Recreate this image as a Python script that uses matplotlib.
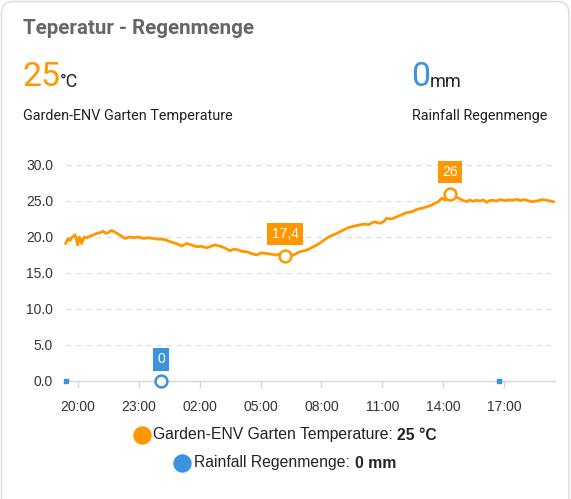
import numpy as np
import matplotlib
matplotlib.use("Agg")
import matplotlib.pyplot as plt
from matplotlib.patches import FancyBboxPatch

# hours since midnight of day one (24+ = next day)
temp_hours = [19.41, 19.54, 19.63, 19.71, 19.80, 19.87, 19.94, 20.00, 20.08, 20.14, 20.20, 20.31,
              20.45, 20.61, 20.78, 20.94, 21.10, 21.26, 21.40, 21.51, 21.64, 21.76, 21.88, 22.00,
              22.17, 22.33, 22.55, 22.74, 22.98, 23.23, 23.48, 23.73, 23.95, 24.14, 24.35, 24.55,
              24.85, 25.12, 25.37, 25.60, 25.86, 26.10, 26.35, 26.55, 26.76, 27.09, 27.30, 27.50,
              27.70, 27.91, 28.10, 28.32, 28.55, 28.81, 29.05, 29.31, 29.55, 29.80, 30.00, 30.21,
              30.40, 30.62, 30.94, 31.30, 31.77, 32.05, 32.34, 32.60, 32.83, 33.10, 33.32, 33.60,
              33.90, 34.10, 34.31, 34.50, 34.64, 34.85, 35.04, 35.21, 35.45, 35.70, 35.95, 36.20,
              36.45, 36.69, 36.95, 37.18, 37.40, 37.59, 37.75, 37.92, 38.08, 38.20, 38.33, 38.50,
              38.74, 38.95, 39.15, 39.30, 39.45, 39.62, 39.80, 39.97, 40.13, 40.27, 40.40, 40.62,
              40.80, 41.00, 41.22, 41.44, 41.62, 41.80, 41.95, 42.10, 42.35, 42.59, 42.85, 43.09,
              43.25, 43.41]
temp_values = [19.1, 19.8, 19.5, 19.95, 20.1, 20.3, 19.7, 18.9, 20.0, 19.6, 19.1, 20.0,
               19.9, 20.1, 20.3, 20.5, 20.6, 20.8, 20.5, 20.6, 20.9, 20.8, 20.6, 20.4,
               20.1, 19.8, 20.0, 19.9, 20.0, 19.8, 19.9, 19.8, 19.7, 19.7, 19.6, 19.35,
               19.1, 18.75, 19.1, 18.9, 18.65, 18.7, 18.5, 18.7, 18.9, 18.65, 18.4, 18.1,
               18.3, 18.2, 18.0, 17.95, 17.7, 17.5, 17.8, 17.7, 17.6, 17.5, 17.7, 17.4,
               17.5, 17.5, 17.95, 18.2, 18.9, 19.4, 20.0, 20.3, 20.6, 21.0, 21.3, 21.5,
               21.7, 21.8, 21.7, 22.0, 22.1, 21.9, 22.1, 22.6, 22.5, 22.8, 23.1, 23.4,
               23.5, 23.85, 24.0, 24.2, 24.4, 24.7, 24.9, 25.4, 25.1, 25.6, 26.0, 25.6,
               25.4, 25.1, 24.9, 25.15, 24.95, 25.1, 25.0, 25.15, 24.8, 25.05, 25.1, 25.0,
               25.2, 25.05, 25.15, 25.1, 25.25, 25.05, 25.2, 25.1, 24.9, 25.0, 25.2, 25.1,
               25.0, 24.9]
temp_min = (30.21, 17.4, "17,4")
temp_max = (38.33, 26.0, "26")

rain_hours = [19.42, 40.73]
rain_values = [0, 0]
rain_min = (24.12, 0, "0")

tick_hours = [20, 23, 26, 29, 32, 35, 38, 41]
tick_labels = ["20:00", "23:00", "02:00", "05:00", "08:00", "11:00", "14:00", "17:00"]
y_ticks = [0, 5, 10, 15, 20, 25, 30]

orange = "#ff9800"
blue = "#3a94dc"
W, H = 571, 499

fig = plt.figure(figsize=(W / 100, H / 100), dpi=100)

# card background
bg = fig.add_axes([0, 0, 1, 1])
bg.set_xlim(0, W)
bg.set_ylim(H, 0)
bg.axis("off")
bg.add_patch(FancyBboxPatch((1.5, 1.5), W - 3.5, H + 20, boxstyle="round,pad=0,rounding_size=12",
                            fc="white", ec="#e0e0e0", lw=1.2))

bg.text(23, 28, "Teperatur - Regenmenge", fontsize=14.8, family="Roboto", weight="bold",
        color="#666666", va="center")
bg.text(22, 77, "25", fontsize=24.5, family="Roboto", color=orange, va="center")
bg.text(59.5, 82, "°C", fontsize=13, family="Roboto", color="#212121", va="center")
bg.text(23, 115.5, "Garden-ENV Garten Temperature", fontsize=10.4, family="Roboto",
        color="#212121", va="center")
bg.text(411.5, 77, "0", fontsize=24.5, family="Roboto", color=blue, va="center")
bg.text(429.5, 82, "mm", fontsize=13, family="Roboto", color="#212121", va="center")
bg.text(412, 115.5, "Rainfall Regenmenge", fontsize=10.35, family="Roboto",
        color="#212121", va="center")

# legend
leg_font = dict(fontsize=11.3, family="Liberation Sans", color="#222222")
bg.scatter([141.7], [435], s=150, color=orange, zorder=3)
t1 = bg.text(153, 435, "Garden-ENV Garten Temperature: ", va="center", **leg_font)
bg.annotate("25 °C", xy=(1, 0.5), xycoords=t1, va="center", ha="left", weight="bold", **leg_font)
bg.scatter([182], [463], s=150, color=blue, zorder=3)
t2 = bg.text(194.5, 463, "Rainfall Regenmenge: ", va="center", **leg_font)
bg.annotate("0 mm", xy=(1, 0.5), xycoords=t2, va="center", ha="left", weight="bold", **leg_font)

# chart
ax = fig.add_axes([65.5 / W, 1 - 381 / H, (555 - 65.5) / W, (381 - 165) / H])
ax.set_facecolor("none")
ax.set_xlim(19.405, 43.49)
ax.set_ylim(0, 30)
for s in ["top", "right", "left"]:
    ax.spines[s].set_visible(False)
ax.spines["bottom"].set_color("#d6d6d6")
ax.spines["bottom"].set_linewidth(1)
ax.set_yticks(y_ticks)
ax.set_yticklabels([f"{v:.1f}" for v in y_ticks], family="Liberation Sans", fontsize=10,
                   color="#333333")
ax.set_xticks(tick_hours)
ax.set_xticklabels(tick_labels, family="Liberation Sans", fontsize=10, color="#333333")
ax.tick_params(axis="y", length=0, pad=9)
ax.tick_params(axis="x", length=5, width=1, color="#d6d6d6", pad=9)
for v in y_ticks[1:]:
    ax.axhline(v, color="#dcdcdc", lw=0.9, ls=(0, (4, 4)), zorder=0)

ax.plot(temp_hours, temp_values, color=orange, lw=2, zorder=3, clip_on=False)
ax.plot(rain_hours, rain_values, ls="none", marker="s", ms=3.2, color=blue, zorder=3,
        clip_on=False)

for (x, y, lab), c in [(temp_min, orange), (temp_max, orange), (rain_min, blue)]:
    ax.plot([x], [y], marker="o", ms=8.5, mfc="white", mec=c, mew=1.8, zorder=5, clip_on=False)
    ax.annotate(lab, (x, y), xytext=(0, 15.5), textcoords="offset points", ha="center",
                va="center", color="white", fontsize=10, family="Liberation Sans", zorder=6,
                bbox=dict(boxstyle="square,pad=0.3", fc=c, ec="none"))

fig.savefig("out.png", dpi=100)
